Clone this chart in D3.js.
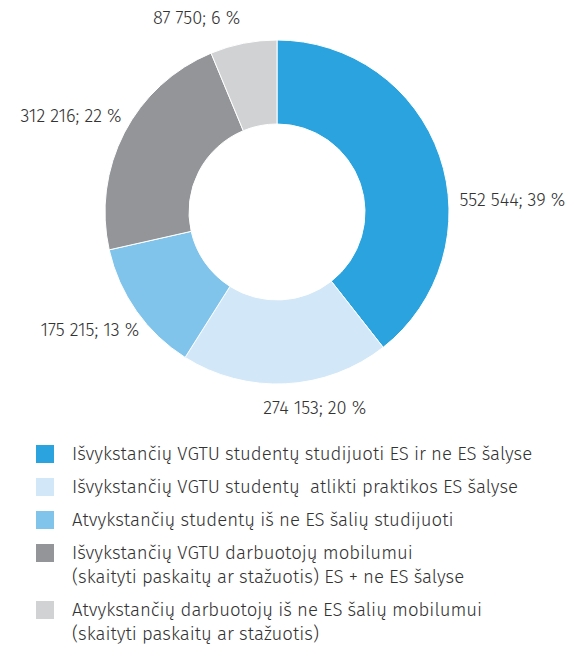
<!DOCTYPE html>
<html><head><meta charset="utf-8">
<script src="https://cdn.jsdelivr.net/npm/d3@7"></script>
<style>body{margin:0;background:#fff} text{white-space:pre}</style>
</head><body>
<svg id="c" width="572" height="645"></svg>
<script>
const categories = [
  "Išvykstančių VGTU studentų studijuoti ES ir ne ES šalyse",
  "Išvykstančių VGTU studentų  atlikti praktikos ES šalyse",
  "Atvykstančių studentų iš ne ES šalių studijuoti",
  "Išvykstančių VGTU darbuotojų mobilumui\n(skaityti paskaitų ar stažuotis) ES + ne ES šalyse",
  "Atvykstančių darbuotojų iš ne ES šalių mobilumui\n(skaityti paskaitų ar stažuotis)"
];
const values = [552544, 274153, 175215, 312216, 87750];
const percentLabels = ["39 %", "20 %", "13 %", "22 %", "6 %"];
const colors = ["#2aa3de", "#d2e7f7", "#80c3eb", "#939598", "#d1d2d4"];

const svg = d3.select("#c");
const cx = 277, cy = 212, R = 172, r = 88;
const font = "'Fira Sans','Noto Sans','Open Sans',sans-serif";
const fmt = v => d3.format(",")(v).replace(/,/g, " ");

const pie = d3.pie().sort(null).value(d => d)(values);
const arc = d3.arc().innerRadius(r).outerRadius(R);
const g = svg.append("g").attr("transform", `translate(${cx},${cy})`);
g.selectAll("path").data(pie).join("path")
  .attr("d", arc).attr("fill", (d, i) => colors[i])
  .attr("stroke", "#fff").attr("stroke-width", 1);

const labelArc = d3.arc().innerRadius(193).outerRadius(193);
const nudge = [[0, 52], [28, 4], [20, 8], [16, -6], [1, -4]];
g.selectAll("text.lbl").data(pie).join("text")
  .attr("class", "lbl")
  .each(function(d, i) {
    const [x, y] = labelArc.centroid(d);
    const anchor = x > 30 ? "start" : (x < -30 ? "end" : "middle");
    d3.select(this).attr("x", x + nudge[i][0]).attr("y", y + nudge[i][1])
      .attr("text-anchor", anchor).attr("dominant-baseline", "middle");
  })
  .attr("font-family", font).attr("font-size", 18.3).attr("font-weight", 300).attr("fill", "#333")
  .text((d, i) => `${fmt(values[i])}; ${percentLabels[i]}`);

const lyPos = [454, 487, 520, 553, 610];
const leg = svg.append("g");
categories.forEach((c, i) => {
  const y = lyPos[i];
  leg.append("rect").attr("x", 36).attr("y", y - 9).attr("width", 18).attr("height", 18).attr("fill", colors[i]);
  const t = leg.append("text").attr("x", 72).attr("y", y + 6)
    .attr("font-family", font).attr("font-size", 18.6).attr("font-weight", 300).attr("fill", "#333");
  c.split("\n").forEach((line, j) => {
    t.append("tspan").attr("x", 72).attr("dy", j === 0 ? 0 : 24).text(line);
  });
});
</script>
</body></html>
